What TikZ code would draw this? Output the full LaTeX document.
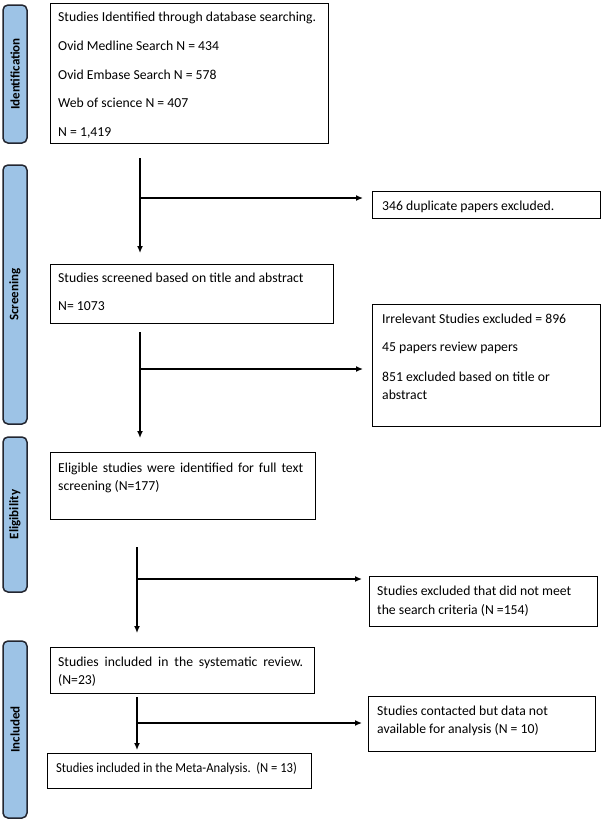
\documentclass[tikz,border=0pt]{standalone}
\usepackage{fontspec}
\setmainfont{Carlito}
\usetikzlibrary{arrows.meta}
\definecolor{barfill}{RGB}{157,195,230}
\definecolor{barline}{RGB}{35,38,48}
\begin{document}
\begin{tikzpicture}[x=1pt,y=-1pt,
  bar/.style={draw=barline,fill=barfill,line width=1.5pt,rounded corners=5pt,
    rotate=90,minimum height=24pt,inner sep=0pt,font=\fontsize{13}{15}\selectfont\bfseries},
  box/.style={draw=black,line width=1.4pt,anchor=north west,inner sep=0pt},
  txt/.style={anchor=base west,inner sep=0pt,font=\fontsize{13.7}{16}\selectfont},
  arr/.style={line width=1.3pt,-{Latex[length=7pt,width=6pt]}}]
\useasboundingbox (0,0) rectangle (602,820);
% phase bars
\node[bar,minimum width=138pt] (p1) at (15,74) {Identification};
\node[bar,minimum width=259pt] (p2) at (15,294.5) {Screening};
\node[bar,minimum width=155pt] (p3) at (15,514.5) {Eligibility};
\node[bar,minimum width=177pt] (p4) at (15,729.5) {Included};
% boxes
\node[box,minimum width=278pt,minimum height=140pt] (b1) at (50,3) {};
\node[box,minimum width=228pt,minimum height=27pt] (b1r) at (372,191) {};
\node[box,minimum width=283pt,minimum height=59pt] (b2) at (50,264) {};
\node[box,minimum width=228pt,minimum height=122pt] (b2r) at (372,304) {};
\node[box,minimum width=265pt,minimum height=67pt] (b3) at (50,452) {};
\node[box,minimum width=228pt,minimum height=50pt] (b3r) at (369,576) {};
\node[box,minimum width=264pt,minimum height=46pt] (b4) at (50,647) {};
\node[box,minimum width=227pt,minimum height=55pt] (b4r) at (368,696) {};
\node[box,minimum width=264pt,minimum height=35pt] (b5) at (47,753) {};
% texts
\node[txt] (t1a) at (58,21.5) {Studies Identified through database searching.};
\node[txt] (t1b) at (58,50.25) {Ovid Medline Search N = 434};
\node[txt] (t1c) at (58,79) {Ovid Embase Search N = 578};
\node[txt] (t1d) at (58,107.75) {Web of science N = 407};
\node[txt] (t1e) at (58,136.5) {N = 1,419};
\node[txt] (t1r) at (382,210.5) {346 duplicate papers excluded.};
\node[txt] (t2a) at (58,282.5) {Studies screened based on title and abstract};
\node[txt] (t2b) at (58,310.5) {N= 1073};
\node[txt] (t2ra) at (382,323.5) {Irrelevant Studies excluded = 896};
\node[txt] (t2rb) at (382,351.5) {45 papers review papers};
\node[txt] (t2rc) at (382,381.5) {851 excluded based on title or};
\node[txt] (t2rd) at (382,399.5) {abstract};
\node[txt] (t3a) at (58,472.5) {\makebox[245pt][s]{Eligible studies were identified for full text}};
\node[txt] (t3b) at (58,490.5) {screening (N=177)};
\node[txt] (t3ra) at (377,595.5) {Studies excluded that did not meet};
\node[txt] (t3rb) at (377,614.5) {the search criteria (N =154)};
\node[txt] (t4a) at (58,666.5) {\makebox[245pt][s]{Studies included in the systematic review.}};
\node[txt] (t4b) at (58,684.5) {(N=23)};
\node[txt] (t4ra) at (377,715.5) {Studies contacted but data not};
\node[txt] (t4rb) at (377,733.5) {available for analysis (N = 10)};
\node[txt] (t5) at (56,772.5) {\scalebox{0.92}[1]{Studies included in the Meta-Analysis.\ \ (N = 13)}};
% connectors
\coordinate (s1) at (140,158);
\coordinate (j1) at (140,198);
\draw[arr,shorten >=11pt] (s1) -- (s1 |- b2.north);
\draw[arr,shorten >=9pt] (j1) -- (j1 -| b1r.west);
\coordinate (s2) at (140,332);
\coordinate (j2) at (140,369);
\draw[arr,shorten >=14pt] (s2) -- (s2 |- b3.north);
\draw[arr,shorten >=9pt] (j2) -- (j2 -| b2r.west);
\coordinate (s3) at (137,547);
\coordinate (j3) at (137,579);
\draw[arr,shorten >=14pt] (s3) -- (s3 |- b4.north);
\draw[arr,shorten >=7pt] (j3) -- (j3 -| b3r.west);
\coordinate (s4) at (137,697);
\coordinate (j4) at (137,723);
\draw[arr,shorten >=3pt] (s4) -- (s4 |- b5.north);
\draw[arr,shorten >=6pt] (j4) -- (j4 -| b4r.west);
\end{tikzpicture}
\end{document}
